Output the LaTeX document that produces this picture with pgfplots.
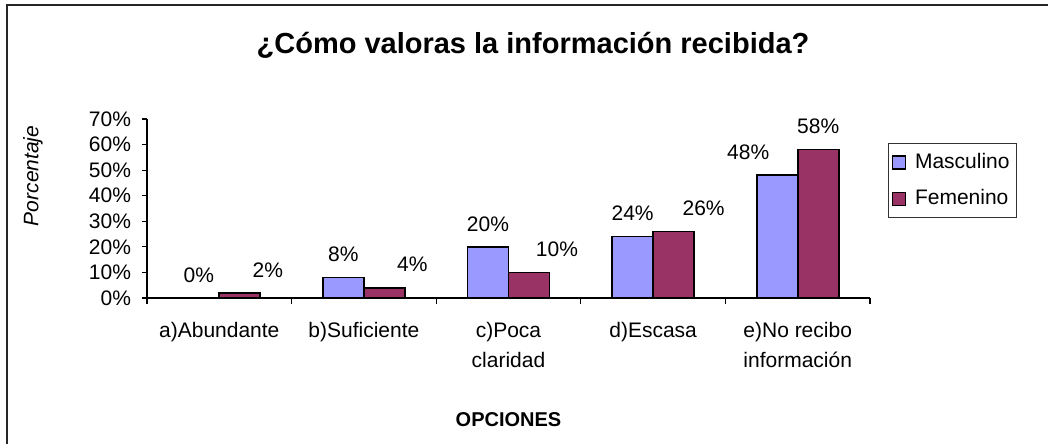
\documentclass[border=0pt]{standalone}
\usepackage{fontspec}
\setmainfont{Liberation Sans}
\usepackage{pgfplots}
\usepackage{pgfplotstable}
\pgfplotsset{compat=1.18}

\definecolor{masc}{HTML}{9999FF}
\definecolor{fem}{HTML}{993366}

% category index, percentage, horizontal offset of the value label (pt)
\pgfplotstableread{
x  y   dx
0  0   0
1  8   0
2  20  0
3  24  0
4  48  -14.5
}\masculino
\pgfplotstableread{
x  y   dx
0  2   14
1  4   14
2  10  14
3  26  15
4  58  0
}\femenino

\pgfplotsset{
  squarelegend/.style={
    legend image code/.code={
      \draw[##1, line width=0.7pt] (1pt,-3.25pt) rectangle (7.5pt,3.25pt);
      \path (10pt,0pt);
    }
  },
  every axis title shift=0pt,
  valuelabels/.style={
    visualization depends on={\thisrow{dx} \as \labeldx},
    nodes near coords={\pgfmathprintnumber{\pgfplotspointmeta}\%},
    nodes near coords style={font=\fontsize{10.5}{12}\selectfont,
      anchor=center, yshift=11.5pt, xshift=\labeldx pt, black},
  },
}

\begin{document}
\begin{tikzpicture}
\begin{axis}[
  scale only axis,
  width=361.5pt, height=89.5pt,
  xmin=-0.5, xmax=4.5, ymin=0, ymax=70,
  ybar=0pt, bar width=20.5pt,
  axis lines=left,
  axis line style={-, line width=0.6pt},
  tick align=outside,
  tick style={black, line width=0.6pt},
  /pgf/number format/assume math mode=true,
  ytick={0,10,...,70},
  yticklabel={\pgfmathprintnumber{\tick}\%},
  major tick length=2.5pt,
  minor tick length=3pt,
  xtick={0,1,2,3,4},
  major x tick style={draw=none},
  minor xtick={-0.5,0.5,1.5,2.5,3.5,4.5},
  xticklabels={a)Abundante, b)Suficiente, {c)Poca\\claridad}, d)Escasa, {e)No recibo\\información}},
  xticklabel style={align=center, anchor=north, yshift=-6pt,
    font=\fontsize{10.5}{15}\selectfont},
  yticklabel style={font=\fontsize{10.5}{12}\selectfont, xshift=-2pt},
  title={¿Cómo valoras la información recibida?},
  title style={font=\bfseries\fontsize{14.5}{17}\selectfont,
    at={(rel axis cs:0.5339,1.4134)}, anchor=center},
  xlabel={OPCIONES},
  xlabel style={font=\bfseries\fontsize{10}{12}\selectfont,
    at={(rel axis cs:0.5,-0.6816)}, anchor=center},
  ylabel={Porcentaje},
  ylabel style={font=\itshape\fontsize{10.5}{12}\selectfont,
    at={(rel axis cs:-0.1577,0.682)}, anchor=center},
  legend style={at={(rel axis cs:1.0249,0.8659)}, anchor=north west,
    draw=black!80, line width=0.5pt, font=\fontsize{10.5}{12}\selectfont,
    inner xsep=1.5pt, inner ysep=3pt, row sep=5pt},
  legend cell align=left,
]
\addplot[fill=masc, draw=black, line width=0.8pt, squarelegend, valuelabels]
  table[x=x, y=y] {\masculino};
\addplot[fill=fem, draw=black, line width=0.8pt, squarelegend, valuelabels]
  table[x=x, y=y] {\femenino};
\legend{Masculino, Femenino}
\end{axis}
% chart frame: top and left edges
\draw[line width=0.75pt, black!85] (-70pt,-73pt) -- (-70pt,146.5pt) -- (450.5pt,146.5pt);
\pgfresetboundingbox
\useasboundingbox (-73.5pt,-73pt) rectangle (450.5pt,149pt);
\end{tikzpicture}
\end{document}
